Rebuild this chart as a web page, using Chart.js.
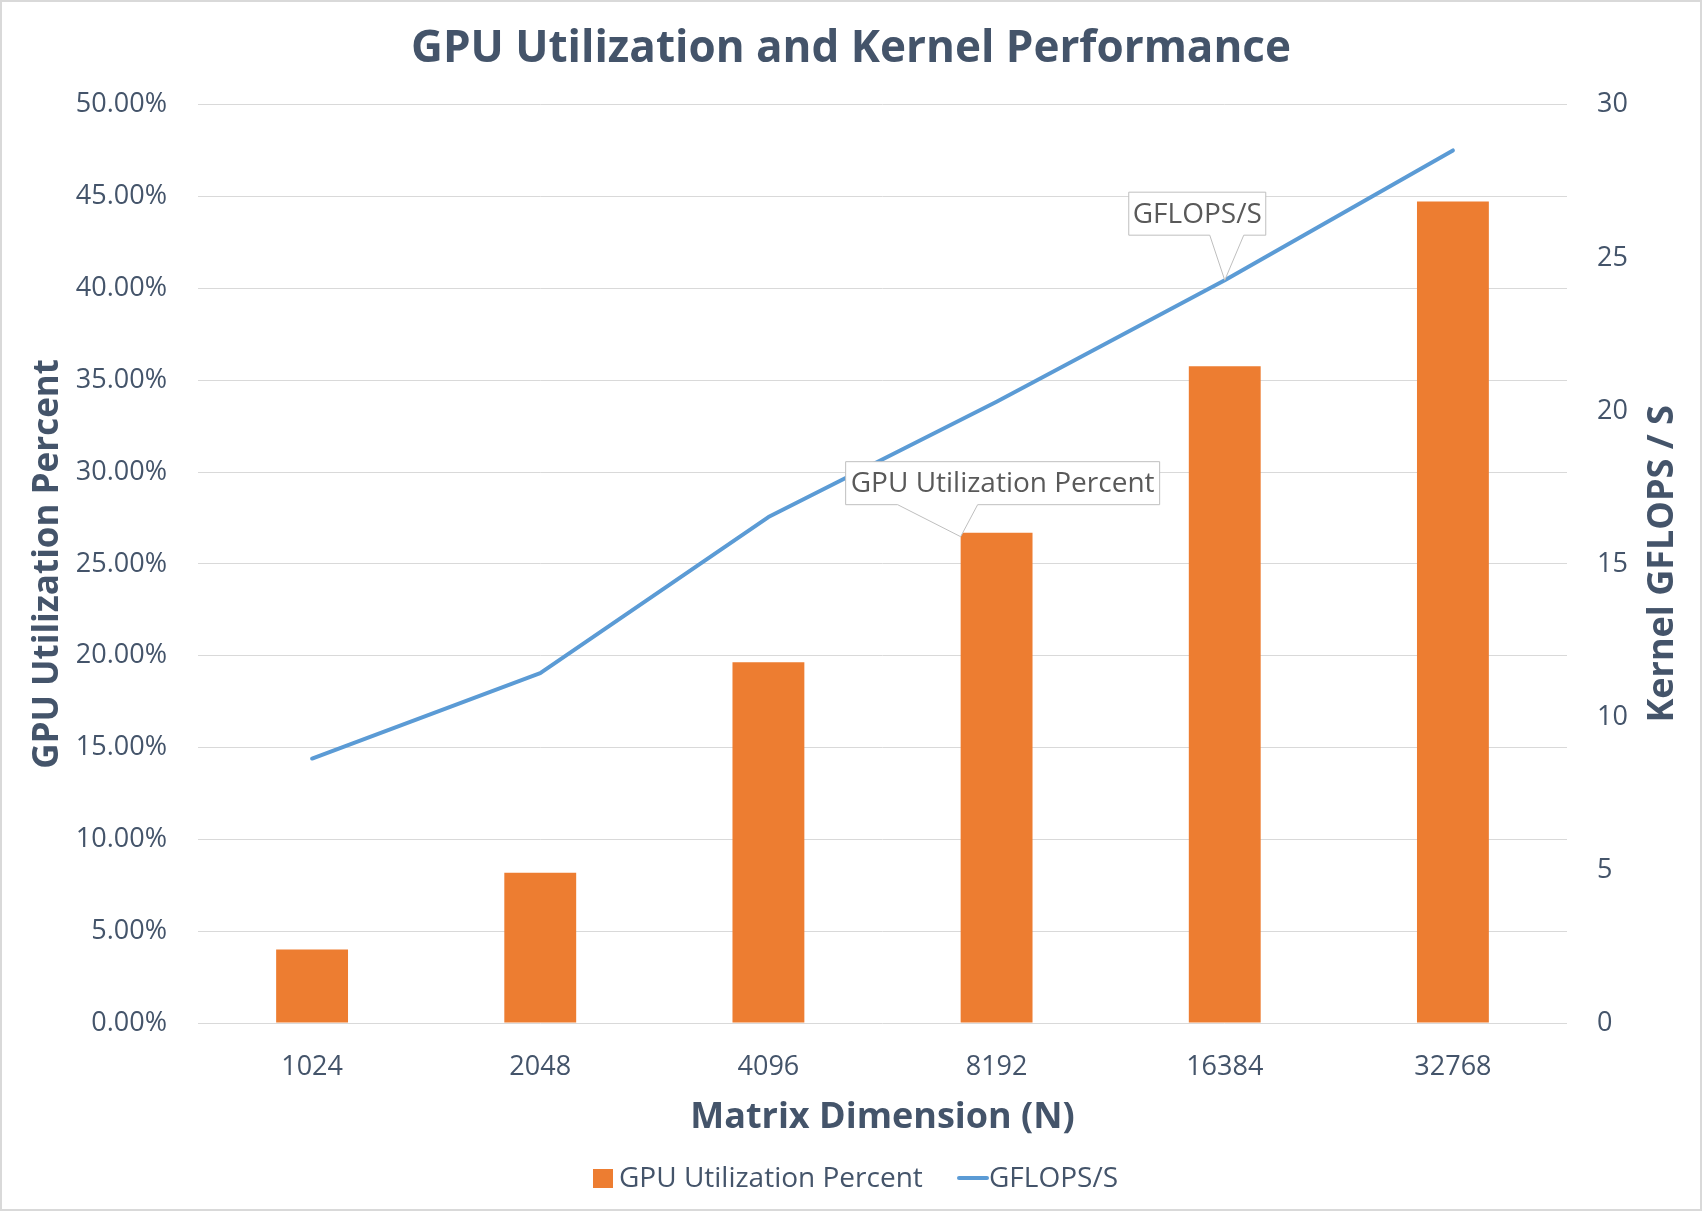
<!DOCTYPE html>
<html>
<head>
<meta charset="utf-8">
<script src="https://cdn.jsdelivr.net/npm/chart.js@4.4.0/dist/chart.umd.min.js"></script>
<style>
  html, body { margin: 0; padding: 0; background: #ffffff; }
  #wrap { width: 1702px; height: 1211px; position: relative; }
  canvas { display: block; }
</style>
</head>
<body>
<div id="wrap"><canvas id="c" width="1702" height="1211"></canvas></div>
<script>
// ---- data ----
const categories = ['1024', '2048', '4096', '8192', '16384', '32768'];
const gpuUtilizationPercent = [4.0, 8.18, 19.64, 26.7, 35.76, 44.74];
const gflopsPerSecond = [8.64, 11.43, 16.53, 20.3, 24.27, 28.51];
const leftAxisRange = [0, 50, 5];   // min, max, step (percent)
const rightAxisRange = [0, 30, 5];  // min, max, step
const seriesNames = ['GPU Utilization Percent', 'GFLOPS/S'];
const chartTitle = 'GPU Utilization and Kernel Performance';
const xAxisTitle = 'Matrix Dimension (N)';
const leftAxisTitle = 'GPU Utilization Percent';
const rightAxisTitle = 'Kernel GFLOPS / S';

const TEXT = '#44546A';
const CALLOUT_TEXT = '#595959';
const GRID = '#D9D9D9';
const ORANGE = '#ED7D31';
const BLUE = '#5B9BD5';
const FONT = '"Open Sans", "Noto Sans", sans-serif';

Chart.defaults.font.family = FONT;

const decor = {
  id: 'decor',
  beforeDraw(chart) {
    const ctx = chart.ctx;
    ctx.save();
    ctx.fillStyle = '#ffffff';
    ctx.fillRect(0, 0, chart.width, chart.height);
    ctx.restore();
  },
  afterDraw(chart) {
    const ctx = chart.ctx;
    const area = chart.chartArea;
    ctx.save();

    // right axis title (reads bottom-to-top)
    ctx.save();
    ctx.translate(1663, (area.top + area.bottom) / 2);
    ctx.rotate(-Math.PI / 2);
    ctx.font = 'bold 36px ' + FONT;
    ctx.fillStyle = TEXT;
    ctx.textAlign = 'center';
    ctx.textBaseline = 'middle';
    ctx.fillText(rightAxisTitle, 0, 0);
    ctx.restore();

    // callout helper
    function callout(text, left, right, top, bottom, b1, b2, ax, ay) {
      ctx.beginPath();
      ctx.moveTo(left, top);
      ctx.lineTo(right, top);
      ctx.lineTo(right, bottom);
      ctx.lineTo(b2, bottom);
      ctx.lineTo(ax, ay);
      ctx.lineTo(b1, bottom);
      ctx.lineTo(left, bottom);
      ctx.closePath();
      ctx.fillStyle = '#ffffff';
      ctx.fill();
      ctx.lineWidth = 1;
      ctx.strokeStyle = '#BFBFBF';
      ctx.stroke();
      ctx.font = '28px ' + FONT;
      ctx.fillStyle = CALLOUT_TEXT;
      ctx.textAlign = 'center';
      ctx.textBaseline = 'middle';
      ctx.fillText(text, (left + right) / 2, (top + bottom) / 2 + 1);
    }

    // GFLOPS callout anchored at 16384 point of the line
    const lp = chart.getDatasetMeta(1).data[4];
    const px = lp.x, py = lp.y;
    callout(seriesNames[1], px - 96, px + 41, py - 88, py - 45, px - 15, px + 19, px, py);

    // GPU utilization callout anchored at the 8192 bar's top-left
    const bp = chart.getDatasetMeta(0).data[3];
    const ax = bp.x - bp.width / 2, ay = bp.y + 4;
    callout(seriesNames[0], ax - 115, ax + 199, ay - 75, ay - 32, ax - 63, ax + 17, ax, ay);

    // legend
    const ly = 1178;
    ctx.fillStyle = ORANGE;
    ctx.fillRect(593, ly - 9, 20, 19);
    ctx.font = '28px ' + FONT;
    ctx.fillStyle = TEXT;
    ctx.textAlign = 'left';
    ctx.textBaseline = 'middle';
    ctx.fillText(seriesNames[0], 619, ly + 1);
    ctx.beginPath();
    ctx.moveTo(959, ly);
    ctx.lineTo(987, ly);
    ctx.strokeStyle = BLUE;
    ctx.lineWidth = 4;
    ctx.lineCap = 'round';
    ctx.stroke();
    ctx.fillStyle = TEXT;
    ctx.fillText(seriesNames[1], 989, ly + 1);

    // outer border
    ctx.strokeStyle = GRID;
    ctx.lineWidth = 2;
    ctx.strokeRect(1, 1, chart.width - 2, chart.height - 2);
    ctx.restore();
  }
};

new Chart(document.getElementById('c'), {
  data: {
    labels: categories,
    datasets: [
      {
        type: 'bar',
        label: seriesNames[0],
        data: gpuUtilizationPercent,
        backgroundColor: ORANGE,
        borderWidth: 0,
        yAxisID: 'y',
        categoryPercentage: 1,
        barPercentage: 0.315,
        order: 2
      },
      {
        type: 'line',
        label: seriesNames[1],
        data: gflopsPerSecond,
        borderColor: BLUE,
        backgroundColor: BLUE,
        borderWidth: 4,
        borderCapStyle: 'round',
        borderJoinStyle: 'round',
        pointRadius: 0,
        pointHoverRadius: 0,
        tension: 0,
        fill: false,
        yAxisID: 'y1',
        order: 1
      }
    ]
  },
  options: {
    responsive: false,
    animation: false,
    devicePixelRatio: 1,
    layout: { padding: { left: 0, right: 0, top: 0, bottom: 71 } },
    plugins: {
      legend: { display: false },
      tooltip: { enabled: false },
      title: {
        display: true,
        text: chartTitle,
        color: TEXT,
        font: { family: FONT, size: 44, weight: 'bold', lineHeight: 1.2 },
        padding: { top: 23, bottom: 29 }
      }
    },
    scales: {
      x: {
        offset: true,
        grid: { display: false, drawTicks: false },
        border: { display: false },
        ticks: { color: TEXT, font: { size: 27, lineHeight: 1.2 }, padding: 28 },
        title: {
          display: true,
          text: xAxisTitle,
          color: TEXT,
          font: { size: 36, weight: 'bold', lineHeight: 1.2 },
          padding: { top: 0, bottom: 1 }
        },
        afterFit(s) { s.height = 117; }
      },
      y: {
        position: 'left',
        min: leftAxisRange[0],
        max: leftAxisRange[1],
        grid: { color: GRID, lineWidth: 1, drawTicks: false },
        border: { display: false },
        ticks: {
          stepSize: leftAxisRange[2],
          color: TEXT,
          font: { size: 27 },
          padding: 31,
          callback: v => v.toFixed(2) + '%'
        },
        title: {
          display: true,
          text: leftAxisTitle,
          color: TEXT,
          font: { size: 35, weight: 'bold', lineHeight: 1.2 },
          padding: { top: 27, bottom: 0 }
        },
        afterFit(s) { s.width = 198; }
      },
      y1: {
        position: 'right',
        min: rightAxisRange[0],
        max: rightAxisRange[1],
        grid: { display: false, drawTicks: false },
        border: { display: false },
        ticks: {
          stepSize: rightAxisRange[2],
          color: TEXT,
          font: { size: 27 },
          padding: 30
        },
        title: { display: false },
        afterFit(s) { s.width = 135; }
      }
    }
  },
  plugins: [decor]
});
</script>
</body>
</html>
